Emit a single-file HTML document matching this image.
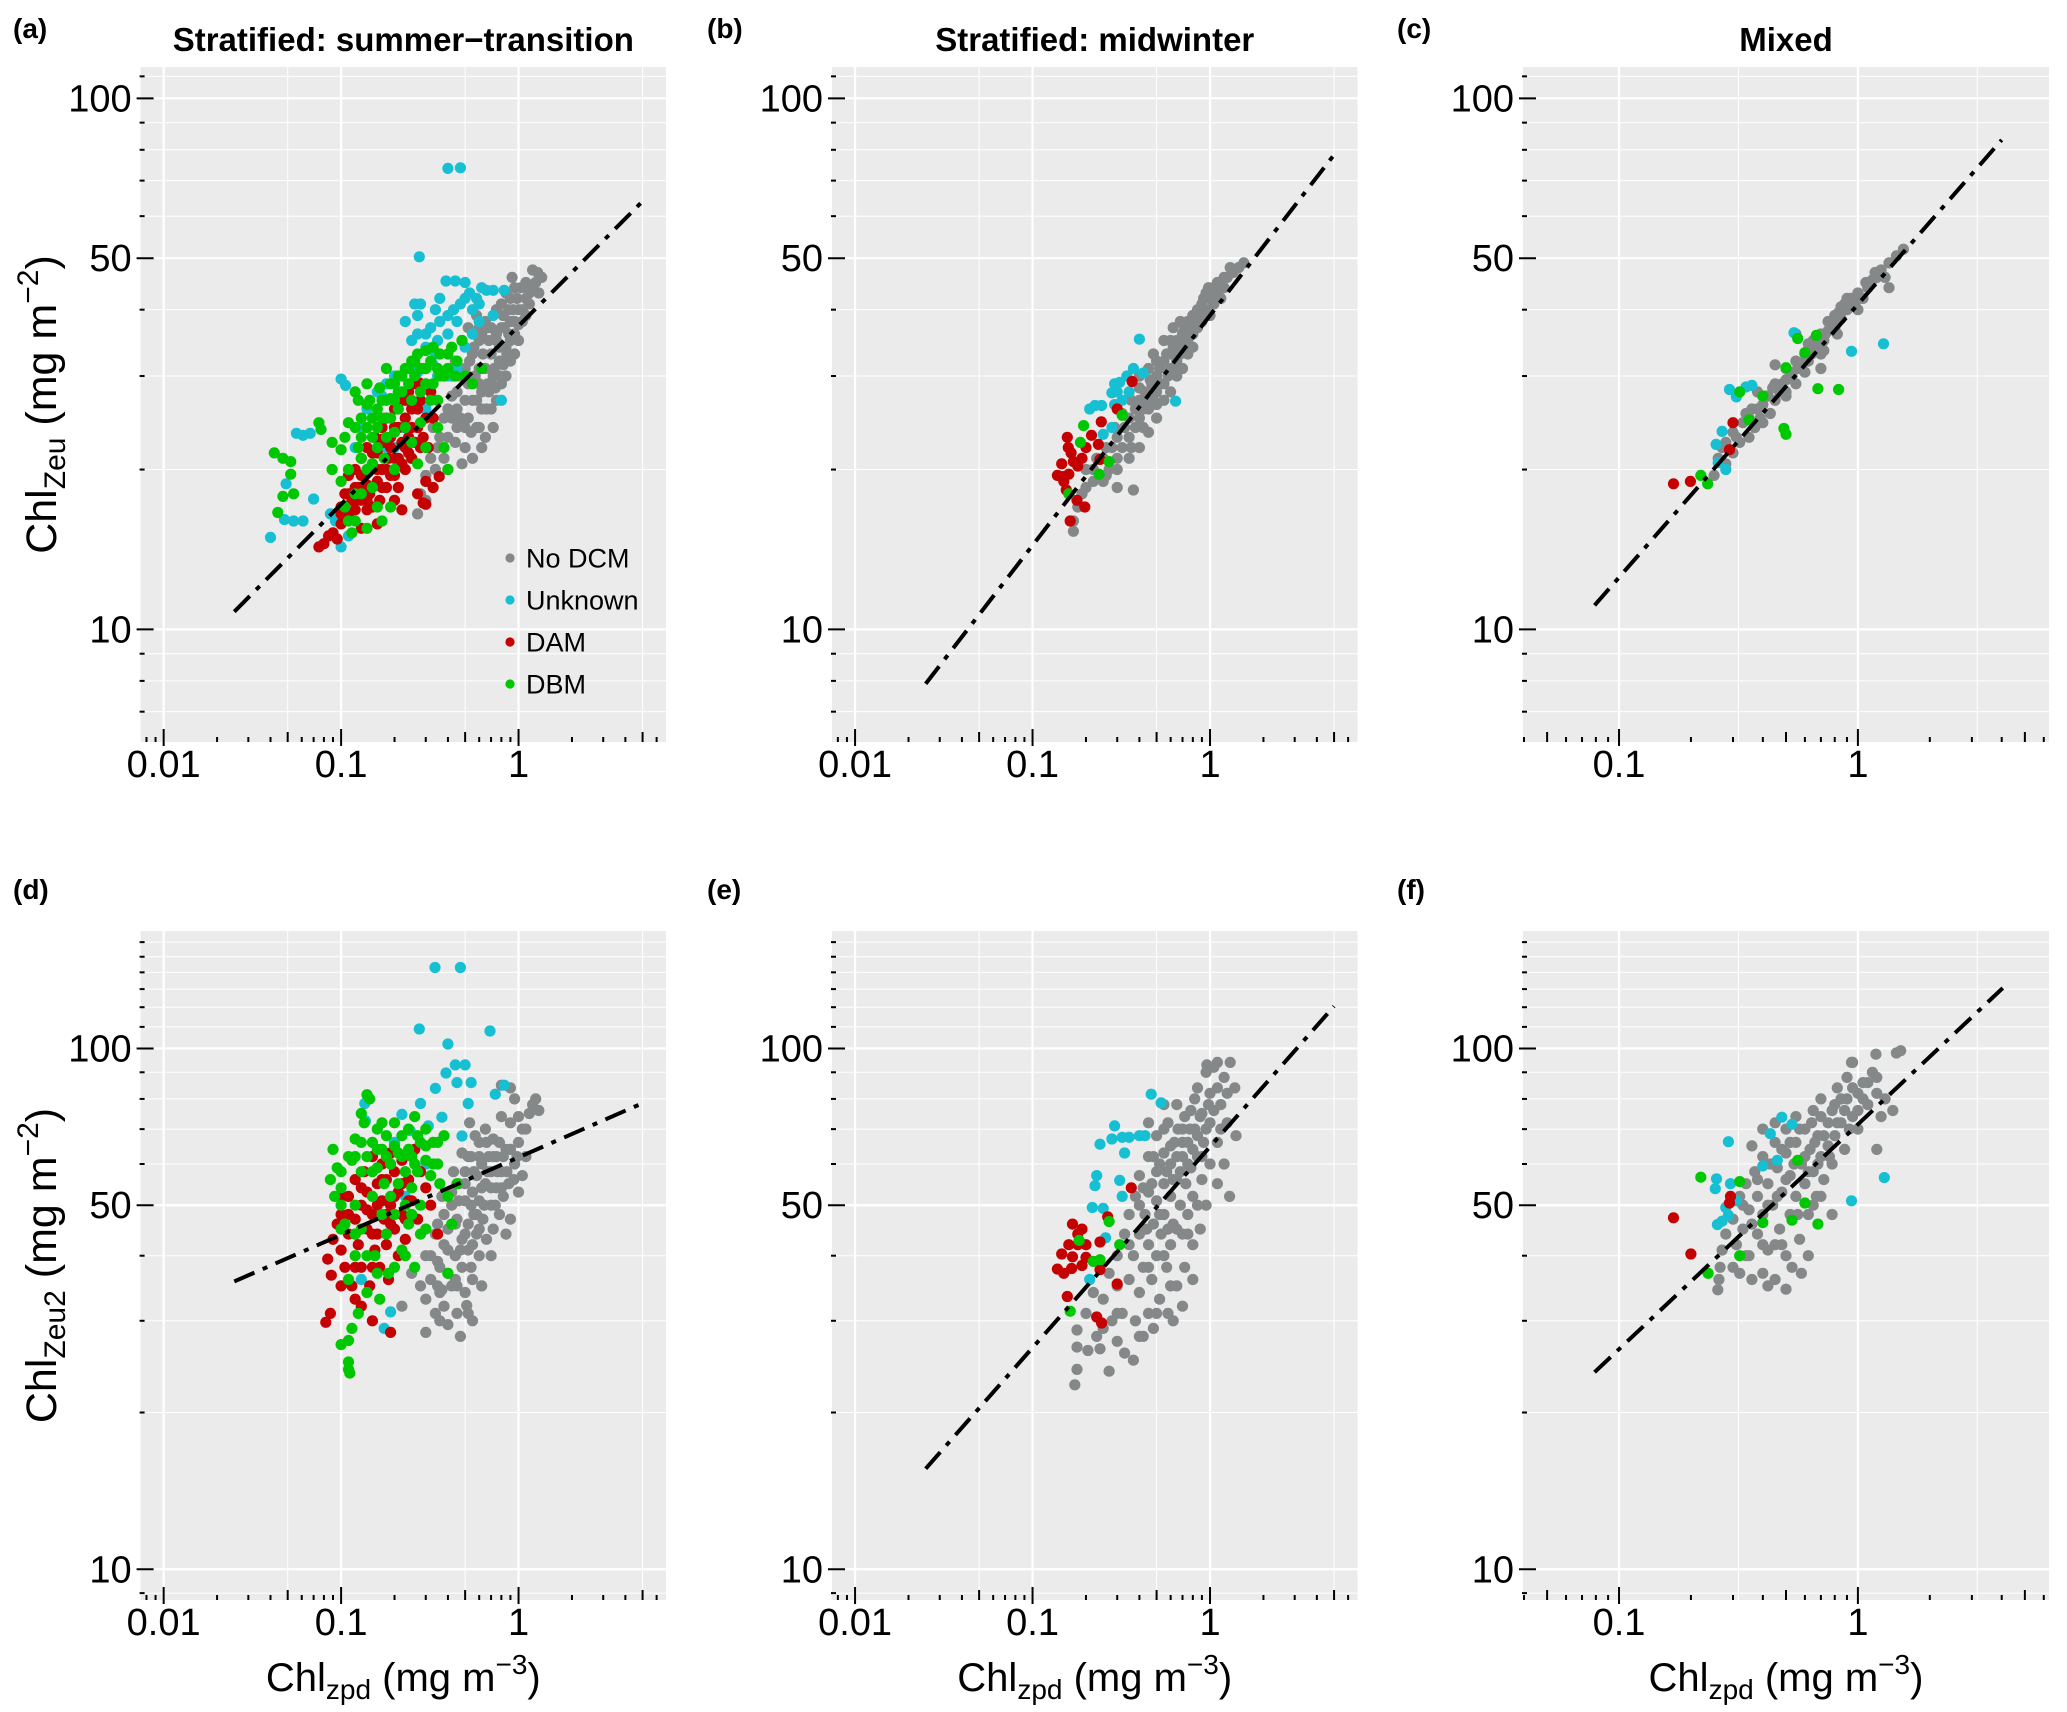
<!DOCTYPE html>
<html><head><meta charset="utf-8">
<style>
html,body{margin:0;padding:0;background:#fff;}
svg{display:block;font-family:"Liberation Sans",Arial,sans-serif;}
</style></head>
<body>
<svg id="fig" width="2067" height="1712" viewBox="0 0 2067 1712" xmlns="http://www.w3.org/2000/svg"></svg>
<script>
// ---------- data (x = Chl_zpd, y = Chl_Zeu / Chl_Zeu2) ----------
const legendLabels = ["No DCM","Unknown","DAM","DBM"];
const yTickLabels = [10,50,100];
const xTicksWide = [0.01,0.1,1];
const xTicksNarrow = [0.1,1];

// Panel (a)
const aNoDCM = [[0.28,18],[0.3,19.5],[0.32,21],[0.35,22],[0.38,21],[0.4,23],[0.42,25],[0.45,24],[0.48,20.5],[0.5,22],[0.52,25],[0.55,27],[0.58,24],[0.6,29],[0.62,26],[0.65,31],[0.68,28],[0.7,33],[0.72,30],[0.75,35],[0.78,32],[0.8,37],[0.85,34],[0.9,38],[0.95,36],[1.0,40],[1.05,38],[1.1,42],[1.15,41],[1.2,44],[1.25,45],[1.3,43],[1.28,47],[1.1,45],[0.95,44],[0.85,43],[0.75,40],[0.65,38],[0.6,35],[0.55,33],[0.5,31],[0.45,28],[0.42,30],[0.48,35],[0.52,37],[0.58,39],[0.62,36],[0.7,37],[0.8,41],[0.9,42],[1.0,35],[0.9,32],[0.8,29],[0.7,26],[0.6,24],[0.55,21],[0.65,23],[0.75,27],[0.85,30],[0.95,33],[0.38,25],[0.35,27],[0.33,24],[0.44,32],[0.5,27],[0.57,30],[0.63,33],[0.68,35],[0.73,31],[0.78,34],[0.83,37],[0.88,36],[0.93,40],[0.98,42],[1.03,44],[0.4,20],[0.3,17.5],[0.27,16.5],[0.45,26],[0.52,29],[0.6,31],[0.67,29],[0.72,24],[0.62,22],
[0.36,23],[0.4,26],[0.44,22.5],[0.47,25],[0.5,24],[0.54,23.5],[0.58,27],[0.62,28],[0.66,26],[0.7,29],[0.74,28.5],[0.78,30],[0.82,31.5],[0.86,33],[0.9,35],[0.95,38],[1.0,37.5],[1.05,40],[1.1,39],[1.15,43],[0.56,34],[0.53,32],[0.6,37],[0.67,37],[0.75,36],[0.82,39],[0.88,40],[0.46,30],[0.42,27.5],[0.34,20],[0.92,46],[1.2,47.5],[1.35,46]];
const aUnknown = [[0.04,14.9],[0.048,16.1],[0.054,16],[0.061,16],[0.056,23.4],[0.061,23.2],[0.067,23.4],[0.049,18.8],[0.07,17.6],[0.087,16.5],[0.093,16],[0.1,14.3],[0.1,29.6],[0.106,28.8],[0.11,15],[0.12,22],[0.13,24],[0.14,26],[0.15,25],[0.16,28],[0.17,27.5],[0.18,29],[0.2,30],[0.22,30],[0.25,31],[0.27,30.5],[0.3,31],[0.33,31.5],[0.25,35],[0.27,36],[0.3,34],[0.32,37],[0.35,35],[0.36,42],[0.34,40],[0.4,36],[0.43,40],[0.47,41],[0.5,42],[0.53,43],[0.58,42],[0.66,43.5],[0.72,43.5],[0.83,43.5],[0.72,39],[0.23,38],[0.27,39],[0.26,41],[0.28,41],[0.39,45.3],[0.44,45.3],[0.5,45],[0.276,50.3],[0.4,73.8],[0.47,74],[0.2,22],[0.22,24],[0.18,22],[0.25,21],[0.3,26],[0.35,30],[0.4,30],[0.45,31],[0.5,34],[0.55,36],[0.6,38],[0.8,27],
[0.36,38],[0.4,39],[0.45,38],[0.55,40],[0.6,41],[0.3,36],[0.34,33],[0.62,44]];
const aDAM = [[0.075,14.3],[0.08,14.5],[0.085,15],[0.09,15.2],[0.095,14.8],[0.1,15.8],[0.1,17],[0.105,18],[0.11,19.5],[0.11,16.5],[0.115,17.5],[0.12,20],[0.12,16.8],[0.125,18.5],[0.13,21],[0.13,17.5],[0.135,19.5],[0.14,22],[0.14,16.8],[0.145,18],[0.15,20.5],[0.15,17],[0.155,23],[0.16,19],[0.16,21.5],[0.165,17.5],[0.17,24],[0.17,20],[0.175,22.5],[0.18,18.5],[0.18,25],[0.185,21],[0.19,23],[0.19,19.5],[0.2,26],[0.2,21],[0.21,24],[0.21,18.5],[0.22,27],[0.22,22.5],[0.23,20],[0.23,25],[0.24,28],[0.24,23],[0.25,21],[0.25,26],[0.26,29],[0.27,24],[0.28,27],[0.28,22],[0.3,25],[0.32,28],[0.276,29.1],[0.3,19],[0.33,18.5],[0.2,17.5],[0.22,16.8],[0.16,15.8],[0.13,15.5],[0.27,18],[0.357,19.4],[0.29,17.3],[0.3,17.2],
[0.11,18],[0.12,18.5],[0.13,19.5],[0.14,18.7],[0.15,21.5],[0.16,20],[0.17,18.5],[0.18,20],[0.19,22],[0.2,19.5],[0.21,21],[0.22,20.5],[0.23,22],[0.24,21.5],[0.26,22.5],[0.27,26],[0.29,23],[0.31,22],[0.33,25],[0.12,17.5],[0.1,16.5],[0.14,17.5],[0.17,22.8],[0.2,24],[0.23,27],[0.25,24]];
const aDBM = [[0.042,21.5],[0.047,21],[0.052,20.7],[0.052,19.6],[0.047,17.8],[0.054,18],[0.044,16.6],[0.075,24.5],[0.077,23.8],[0.089,22.5],[0.089,20],[0.1,21.8],[0.105,23],[0.11,24.5],[0.1,19],[0.105,17],[0.11,16],[0.115,15.2],[0.12,16],[0.125,22],[0.13,25],[0.13,18],[0.14,24],[0.14,20],[0.145,27],[0.15,23],[0.15,18.5],[0.16,26],[0.16,22],[0.165,28.5],[0.17,25],[0.175,21],[0.18,27],[0.18,23],[0.19,29],[0.19,25],[0.2,27],[0.2,23.5],[0.21,30],[0.21,26],[0.22,28],[0.23,31],[0.23,24],[0.24,29],[0.25,32],[0.25,27],[0.26,30],[0.27,33],[0.28,28],[0.29,31],[0.3,33.5],[0.3,29],[0.32,32],[0.33,34],[0.35,31],[0.36,33],[0.38,30],[0.4,33],[0.42,34],[0.45,32],[0.48,35],[0.5,30],[0.55,29],[0.62,31],[0.35,24],[0.38,22],[0.4,20],[0.3,22],[0.27,20.5],[0.12,28],[0.125,27],[0.14,15.5],[0.17,16],[0.19,17],[0.18,31],[0.14,29],
[0.12,24],[0.13,23],[0.14,26.5],[0.15,25],[0.16,24],[0.17,27],[0.18,25],[0.19,27.2],[0.2,29],[0.21,28],[0.22,30],[0.24,31],[0.26,32],[0.28,31],[0.3,31],[0.33,29],[0.36,30],[0.4,31],[0.44,30],[0.15,20.5],[0.11,20],[0.12,18],[0.13,21],[0.16,17],[0.2,20],[0.25,22.5],[0.28,24.5],[0.32,27],[0.35,27]];
const aFit = [[0.025,10.8],[5,64]];

// Panel (b)
const bNoDCM = [[0.17,15.3],[0.17,16],[0.18,17],[0.19,18],[0.2,18.5],[0.22,19],[0.22,20],[0.25,19],[0.25,21],[0.27,20],[0.28,22],[0.3,18.5],[0.3,21],[0.3,23],[0.32,22],[0.33,24],[0.35,21],[0.35,23],[0.35,25],[0.37,18.3],[0.38,24],[0.38,26],[0.4,22],[0.4,25],[0.4,27],[0.42,24],[0.43,28],[0.45,26],[0.45,23.5],[0.47,29],[0.48,27],[0.5,25],[0.5,28],[0.5,30],[0.52,31],[0.55,27],[0.55,29],[0.55,32],[0.58,30],[0.6,28],[0.6,31],[0.6,33],[0.62,34],[0.65,30],[0.65,32],[0.65,35],[0.68,33],[0.7,31],[0.7,34],[0.7,36],[0.72,37],[0.75,33],[0.75,35],[0.75,38],[0.8,34],[0.8,36],[0.8,39],[0.85,37],[0.85,40],[0.9,38],[0.9,41],[0.95,40],[0.95,43],[1.0,39],[1.0,42],[1.05,41],[1.05,44],[1.1,43],[1.15,42],[1.15,45],[1.2,44],[1.25,46],[1.35,47],[1.45,48],[1.55,49],[0.55,35],[0.45,31],[0.4,30],[0.62,37],[0.48,33],
[0.2,20],[0.23,21],[0.26,22],[0.29,24],[0.32,25.5],[0.36,27],[0.4,28.5],[0.44,27],[0.46,29.5],[0.5,26.5],[0.53,29],[0.57,33],[0.6,35],[0.63,31],[0.67,34],[0.72,35],[0.78,37],[0.82,38],[0.88,39],[0.92,42],[0.98,44],[1.1,45],[1.2,46],[1.3,48],[0.42,26],[0.36,22],[0.3,20],[0.26,19.5],[0.5,32],[0.68,38]];
const bUnknown = [[0.21,26],[0.225,26.4],[0.245,26.4],[0.29,29],[0.31,29.2],[0.34,30],[0.42,30.4],[0.4,35.2],[0.28,27.9],[0.29,26.5],[0.25,23.3],[0.28,24],[0.3,28],[0.35,28],[0.64,26.9],[0.37,31],[0.32,27]];
const bDAM = [[0.157,23],[0.159,22],[0.146,20.5],[0.138,19.5],[0.148,19.4],[0.16,19.6],[0.17,20.7],[0.18,20.3],[0.2,22],[0.215,23.2],[0.244,24.6],[0.3,26],[0.364,29.3],[0.197,17],[0.163,16],[0.178,17.5],[0.15,19],[0.235,22.3],[0.24,20.9],[0.165,21.5],[0.19,21],[0.155,18.3]];
const bDBM = [[0.194,24.2],[0.186,22.5],[0.32,25.3],[0.27,20.7],[0.237,19.6],[0.16,18]];
const bFit = [[0.025,7.9],[5,78.3]];

// Panel (c)
const cNoDCM = [[0.25,19.5],[0.26,21],[0.28,20.5],[0.28,22.5],[0.3,21.5],[0.3,23.5],[0.32,22.5],[0.33,24.5],[0.35,23],[0.35,25],[0.37,24],[0.38,26],[0.4,24.5],[0.4,26.5],[0.42,27.5],[0.43,25.5],[0.45,27],[0.45,29],[0.47,28],[0.5,27.5],[0.5,29.5],[0.5,31],[0.53,30],[0.55,29],[0.55,32],[0.58,31],[0.6,30.5],[0.6,33],[0.62,32],[0.65,33.5],[0.65,35],[0.68,34],[0.7,33],[0.7,36],[0.72,35],[0.75,36.5],[0.75,38],[0.8,37],[0.8,39],[0.85,38.5],[0.85,40.5],[0.9,40],[0.9,42],[0.95,41],[1.0,40],[1.0,43],[1.05,42],[1.1,44],[1.15,45.5],[1.2,46],[1.25,47.5],[1.35,49],[1.45,50.5],[1.55,52],[1.3,46],[0.55,36],[0.45,31.5],[0.38,28],[0.7,31],[1.35,44],
[0.27,22],[0.31,23],[0.34,25.5],[0.36,26],[0.39,25],[0.41,27.5],[0.44,28.5],[0.48,29],[0.52,30.5],[0.56,31],[0.6,32],[0.64,33],[0.68,35],[0.73,36],[0.78,38],[0.83,39.5],[0.88,41],[0.93,42],[0.98,41.5],[1.08,45],[1.18,47],[0.5,28],[0.62,34.5],[0.72,33.5],[0.82,36]];
const cUnknown = [[0.54,36.2],[0.94,33.4],[1.28,34.5],[0.29,28.3],[0.31,27.4],[0.34,28.6],[0.27,23.6],[0.255,22.3],[0.28,20],[0.26,20.6],[0.36,28.8]];
const cDAM = [[0.169,18.8],[0.199,19],[0.29,21.8],[0.3,24.5]];
const cDBM = [[0.22,19.5],[0.235,18.8],[0.32,28],[0.56,35.3],[0.67,35.8],[0.6,33.2],[0.5,31.1],[0.68,28.4],[0.83,28.3],[0.49,23.9],[0.5,23.3],[0.35,24.8],[0.4,27.5]];
const cFit = [[0.079,11.1],[4.0,83.5]];

// Panel (d)
const dNoDCM = [[0.25,37],[0.28,35],[0.3,33],[0.32,36],[0.34,31],[0.35,39],[0.36,34],[0.38,32],[0.38,42],[0.4,37],[0.4,45],[0.42,35],[0.42,50],[0.44,40],[0.45,31],[0.45,47],[0.46,55],[0.48,43],[0.48,38],[0.5,34],[0.5,51],[0.5,58],[0.52,46],[0.52,41],[0.54,62],[0.55,36],[0.55,53],[0.56,48],[0.58,44],[0.58,57],[0.6,66],[0.6,40],[0.6,51],[0.62,60],[0.63,47],[0.65,55],[0.65,70],[0.66,43],[0.68,62],[0.7,50],[0.7,58],[0.72,67],[0.72,45],[0.75,54],[0.75,62],[0.78,48],[0.8,58],[0.8,74],[0.82,52],[0.85,64],[0.88,55],[0.9,72],[0.9,47],[0.95,60],[1.0,66],[1.0,53],[1.05,70],[1.1,62],[1.15,75],[1.2,78],[1.25,80],[1.3,76],[0.95,80],[1.05,57],[0.85,44],[0.57,68],[0.53,72],[0.48,63],[0.43,58],[0.7,40],[0.62,35],[0.52,31],[0.4,29.5],[0.36,30],[0.3,28.5],[0.47,28],[0.55,30],[0.35,46],[0.37,52],[0.8,85],[0.9,84],[0.22,32],[0.51,32.1],[0.37,34.4],
[0.32,40],[0.34,44],[0.36,38],[0.38,48],[0.4,41],[0.42,53],[0.44,36],[0.44,46],[0.46,51],[0.47,41],[0.5,44],[0.5,55],[0.52,62],[0.54,38],[0.54,50],[0.56,58],[0.58,48],[0.6,45],[0.6,62],[0.62,54],[0.64,50],[0.66,66],[0.67,58],[0.7,54],[0.72,62],[0.74,50],[0.76,58],[0.78,66],[0.8,54],[0.82,62],[0.86,58],[0.9,64],[0.94,56],[0.98,62],[1.0,74],[1.1,70],[0.45,35],[0.35,35],[0.3,40],[0.55,42]];
const dUnknown = [[0.338,143],[0.47,143],[0.276,109],[0.69,108],[0.4,102],[0.44,93],[0.5,93],[0.39,89.7],[0.45,86],[0.54,86],[0.74,81.7],[0.83,85],[0.34,83.8],[0.28,78.4],[0.136,78.4],[0.137,72.6],[0.22,74.7],[0.245,69.5],[0.31,71],[0.37,73.8],[0.52,78.4],[0.48,67.9],[0.175,29],[0.19,31.2],[0.13,36],[0.26,64],[0.3,60],[0.2,66],[0.23,52]];
const dDAM = [[0.082,29.8],[0.087,31],[0.088,36.7],[0.084,39.4],[0.09,43],[0.095,46],[0.1,41],[0.1,48],[0.105,38],[0.11,44],[0.11,52],[0.115,35],[0.12,47],[0.12,56],[0.125,42],[0.13,50],[0.13,38],[0.135,58],[0.14,45],[0.14,53],[0.145,35],[0.15,48],[0.15,62],[0.155,41],[0.16,55],[0.16,44],[0.165,38],[0.17,51],[0.17,60],[0.175,47],[0.18,42],[0.18,56],[0.185,36],[0.19,50],[0.19,63],[0.2,45],[0.2,58],[0.21,40],[0.21,53],[0.22,48],[0.22,61],[0.23,43],[0.24,56],[0.25,51],[0.26,64],[0.27,47],[0.28,58],[0.3,54],[0.32,50],[0.35,44],[0.12,33],[0.15,30],[0.13,32],[0.19,28.5],[0.1,35],
[0.1,52],[0.12,44],[0.13,54],[0.14,49],[0.15,44],[0.16,50],[0.17,56],[0.18,48],[0.19,46],[0.2,52],[0.22,55],[0.23,47],[0.24,51],[0.15,38],[0.12,38],[0.11,48]];
const dDBM = [[0.087,56],[0.09,64],[0.092,52],[0.095,59],[0.1,54],[0.1,27],[0.105,46],[0.11,24.2],[0.11,25],[0.11,27.5],[0.112,23.8],[0.115,61],[0.115,29],[0.12,67],[0.12,50],[0.125,31],[0.13,58],[0.13,45],[0.135,72],[0.14,81.5],[0.145,80],[0.14,62],[0.14,34],[0.15,52],[0.15,66],[0.155,40],[0.16,59],[0.16,70],[0.165,33],[0.17,48],[0.17,64],[0.175,55],[0.18,68],[0.18,44],[0.185,37],[0.19,60],[0.19,52],[0.2,72],[0.2,48],[0.21,63],[0.21,55],[0.22,41],[0.22,68],[0.23,58],[0.23,50],[0.24,70],[0.24,46],[0.25,62],[0.25,54],[0.26,74],[0.27,58],[0.28,66],[0.28,50],[0.3,61],[0.3,70],[0.32,57],[0.33,66],[0.35,60],[0.36,55],[0.38,68],[0.4,52],[0.42,46],[0.45,55],[0.4,37],[0.3,45],[0.26,38],[0.12,40],[0.1,45],[0.11,36],[0.13,75],
[0.1,58],[0.11,62],[0.12,62],[0.13,66],[0.15,58],[0.16,64],[0.17,72],[0.18,62],[0.2,65],[0.22,62],[0.24,64],[0.26,60],[0.27,68],[0.3,65],[0.33,60],[0.35,66],[0.12,44],[0.14,40],[0.16,37],[0.2,38],[0.23,40],[0.28,44],[0.25,48],[0.1,50]];
const dFit = [[0.025,35.7],[5,78.5]];

// Panel (e)
const eNoDCM = [[0.173,22.6],[0.178,24.2],[0.178,26.7],[0.178,28.8],[0.205,26.3],[0.24,26.5],[0.3,27.4],[0.37,25.2],[0.2,31],[0.22,34],[0.25,29],[0.25,33],[0.27,37],[0.28,30],[0.3,35],[0.3,40],[0.32,31],[0.33,44],[0.35,36],[0.35,48],[0.37,40],[0.38,30],[0.38,52],[0.4,34],[0.4,44],[0.4,57],[0.42,38],[0.43,48],[0.45,31],[0.45,42],[0.45,53],[0.45,62],[0.47,36],[0.48,46],[0.5,40],[0.5,51],[0.5,58],[0.5,68],[0.52,33],[0.53,44],[0.55,48],[0.55,55],[0.55,63],[0.57,38],[0.58,72],[0.6,42],[0.6,52],[0.6,60],[0.62,46],[0.63,66],[0.65,35],[0.65,56],[0.65,78],[0.68,50],[0.7,44],[0.7,62],[0.7,70],[0.72,38],[0.73,55],[0.75,48],[0.75,66],[0.78,59],[0.78,76],[0.8,42],[0.8,52],[0.82,70],[0.85,62],[0.85,84],[0.88,45],[0.9,56],[0.9,75],[0.92,66],[0.95,50],[0.95,90],[1.0,60],[1.0,72],[1.0,82],[1.05,92],[1.1,66],[1.1,55],[1.15,78],[1.2,60],[1.2,88],[1.3,94],[1.25,72],[1.29,52],[1.4,68],[1.38,84],[0.96,93],[1.1,94],[0.62,30],[0.7,32],[0.8,36],[0.48,29],[0.58,31],[0.42,28],[0.33,26],[0.27,24],[0.23,28],[0.55,78],[0.45,72],
[0.4,50],[0.42,54],[0.44,45],[0.47,55],[0.48,62],[0.52,48],[0.52,60],[0.55,70],[0.57,58],[0.58,45],[0.6,65],[0.62,56],[0.65,62],[0.66,70],[0.68,58],[0.7,66],[0.72,74],[0.75,60],[0.77,70],[0.8,64],[0.82,80],[0.85,68],[0.88,74],[0.9,62],[0.95,70],[0.98,78],[1.05,76],[1.1,84],[1.15,70],[1.25,82],[0.55,40],[0.65,45],[0.75,44],[0.85,50],[0.45,38],[0.35,42],[0.3,31],[0.4,28],[0.5,31],[0.6,35]];
const eUnknown = [[0.466,81.7],[0.53,78.6],[0.29,71],[0.28,67],[0.24,65.5],[0.32,67.5],[0.35,67.5],[0.4,68],[0.43,68],[0.33,63],[0.23,57],[0.225,54.5],[0.217,49.5],[0.25,49.3],[0.258,43.3],[0.21,36],[0.32,52],[0.31,55.8]];
const eDAM = [[0.36,54],[0.265,47.5],[0.168,46],[0.19,45],[0.16,42],[0.18,42],[0.2,42],[0.146,40.3],[0.138,37.7],[0.15,37],[0.166,37.8],[0.19,38.3],[0.24,42.5],[0.24,37.6],[0.157,33.4],[0.23,30.5],[0.245,29.7],[0.3,35.3],[0.168,39.8],[0.2,39.7],[0.18,44]];
const eDBM = [[0.183,42.8],[0.22,39],[0.24,39.3],[0.27,46.5],[0.163,31.3],[0.31,42]];
const eFit = [[0.025,15.6],[5,120.5]];

// Panel (f)
const fNoDCM = [[0.259,34.4],[0.262,36],[0.265,38],[0.27,41],[0.28,44],[0.3,38],[0.3,47],[0.31,42],[0.32,37],[0.32,52],[0.33,45],[0.34,55],[0.35,40],[0.35,49],[0.36,36],[0.37,58],[0.38,44],[0.38,52],[0.4,37],[0.4,48],[0.4,62],[0.42,55],[0.42,41],[0.44,50],[0.45,66],[0.45,36],[0.46,59],[0.47,45],[0.48,53],[0.5,40],[0.5,63],[0.5,70],[0.52,48],[0.52,57],[0.55,52],[0.55,66],[0.55,74],[0.57,43],[0.58,60],[0.6,55],[0.6,70],[0.62,48],[0.63,64],[0.65,58],[0.65,76],[0.67,52],[0.68,68],[0.7,62],[0.7,80],[0.72,56],[0.75,72],[0.75,65],[0.78,60],[0.8,78],[0.8,68],[0.82,84],[0.85,72],[0.88,64],[0.9,80],[0.9,88],[0.95,74],[0.95,94],[1.0,82],[1.0,70],[1.05,86],[1.1,78],[1.15,90],[1.2,82],[1.25,74],[1.3,80],[1.4,76],[1.19,97.5],[1.51,99],[1.45,98],[0.94,94],[1.2,64],[0.78,48],[0.5,34.5],[0.42,35],[0.58,37],[0.48,42],[0.62,40],[0.36,65],[0.45,72],[0.4,70],
[0.33,50],[0.36,46],[0.38,56],[0.42,50],[0.43,60],[0.46,52],[0.48,64],[0.5,56],[0.52,66],[0.54,60],[0.56,48],[0.57,70],[0.6,62],[0.62,58],[0.64,72],[0.66,66],[0.68,60],[0.7,74],[0.72,68],[0.76,62],[0.78,76],[0.82,72],[0.85,80],[0.88,76],[0.92,70],[0.95,84],[1.0,76],[1.05,80],[1.1,86],[1.2,88],[0.45,42],[0.53,38],[0.4,42],[0.65,50],[0.7,52],[0.34,40]];
const fUnknown = [[0.287,66.2],[0.48,73.8],[0.53,71.5],[0.43,68.6],[0.256,56.2],[0.253,53.8],[0.293,55],[0.31,51],[0.28,49.5],[0.287,47.8],[0.258,45.9],[0.27,46.6],[1.29,56.5],[0.94,51],[0.4,59.5],[0.46,61]];
const fDAM = [[0.169,47.3],[0.2,40.3],[0.293,52],[0.29,50.5]];
const fDBM = [[0.22,56.6],[0.32,55.5],[0.236,37],[0.56,61],[0.6,50.5],[0.68,46],[0.4,46.3],[0.32,40],[0.53,46.8]];
const fFit = [[0.079,23.9],[4.04,130.6]];

// ---------- rendering ----------
const NS = "http://www.w3.org/2000/svg";
const svg = document.getElementById("fig");
const COLORS = ["#848888","#17bfd3","#c50000","#00c800"];
const R = 5.6;
function mk(tag, attrs, parent){
  const e = document.createElementNS(NS, tag);
  for (const k in attrs) e.setAttribute(k, attrs[k]);
  (parent||svg).appendChild(e);
  return e;
}
const log10 = Math.log10;

const panels = [
  {id:"a", title:"Stratified: summer\u2212transition", L:140.6, R:666, T:67, B:742, xl:-2.13, xh:0.831, yl:0.788, yh:2.059, wide:true, series:[aNoDCM,aUnknown,aDAM,aDBM], fit:aFit, lx:13, ly:38},
  {id:"b", title:"Stratified: midwinter", L:832, R:1357.5, T:67, B:742, xl:-2.13, xh:0.831, yl:0.788, yh:2.059, wide:true, series:[bNoDCM,bUnknown,bDAM,bDBM], fit:bFit, lx:707, ly:38},
  {id:"c", title:"Mixed", L:1523, R:2049, T:67, B:742, xl:-1.402, xh:0.80, yl:0.788, yh:2.059, wide:false, series:[cNoDCM,cUnknown,cDAM,cDBM], fit:cFit, lx:1397, ly:38},
  {id:"d", title:"", L:140.6, R:666, T:931, B:1600, xl:-2.13, xh:0.831, yl:0.941, yh:2.2255, wide:true, series:[dNoDCM,dUnknown,dDAM,dDBM], fit:dFit, lx:13, ly:899},
  {id:"e", title:"", L:832, R:1357.5, T:931, B:1600, xl:-2.13, xh:0.831, yl:0.941, yh:2.2255, wide:true, series:[eNoDCM,eUnknown,eDAM,eDBM], fit:eFit, lx:707, ly:899},
  {id:"f", title:"", L:1523, R:2049, T:931, B:1600, xl:-1.402, xh:0.80, yl:0.941, yh:2.2255, wide:false, series:[fNoDCM,fUnknown,fDAM,fDBM], fit:fFit, lx:1397, ly:899}
];
const seriesNames = ["no-dcm","unknown","dam","dbm"];

panels.forEach((p, pi) => {
  const g = mk("g", {});
  
  
  const sx = v => p.L + (log10(v) - p.xl) / (p.xh - p.xl) * (p.R - p.L);
  const sy = v => p.B - (log10(v) - p.yl) / (p.yh - p.yl) * (p.B - p.T);
  const inY = v => log10(v) >= p.yl && log10(v) <= p.yh;
  const inX = v => log10(v) >= p.xl && log10(v) <= p.xh;

  const bg = mk("rect", {x:p.L, y:p.T, width:p.R-p.L, height:p.B-p.T, fill:"#ebebeb"}, g);
  
  

  const yMinor = [7,8,9,20,30,40,60,70,80,90,110,120,130,140,150,160];
  yMinor.forEach(v => { if (inY(v)) { const y = sy(v); mk("line",{x1:p.L,x2:p.R,y1:y,y2:y,stroke:"#fff","stroke-width":1},g); mk("line",{x1:p.L-1,x2:p.L+4,y1:y,y2:y,stroke:"#000","stroke-width":2},g);} });
  yTickLabels.forEach(v => { const y = sy(v);
    mk("line",{x1:p.L,x2:p.R,y1:y,y2:y,stroke:"#fff","stroke-width":2.2},g);
    mk("line",{x1:p.L-4,x2:p.L+13,y1:y,y2:y,stroke:"#000","stroke-width":2},g);
    const t = mk("text",{x:p.L-9,y:y+13,"text-anchor":"end","font-size":38,fill:"#000"},g);
    t.textContent = v;
    
    
  });
  const xMinorGrid = p.wide ? [0.05,0.5,5] : [0.316,3.16];
  xMinorGrid.forEach(v => { const x = sx(v); mk("line",{x1:x,x2:x,y1:p.T,y2:p.B,stroke:"#fff","stroke-width":1},g); });
  const majors = p.wide ? xTicksWide : xTicksNarrow;
  majors.forEach(v => { const x = sx(v);
    mk("line",{x1:x,x2:x,y1:p.T,y2:p.B,stroke:"#fff","stroke-width":2.2},g);
    mk("line",{x1:x,x2:x,y1:p.B-13,y2:p.B+4,stroke:"#000","stroke-width":2},g);
    const t = mk("text",{x:x,y:p.B+35,"text-anchor":"middle","font-size":38,fill:"#000"},g);
    t.textContent = v;
    
    
  });
  [0.001,0.01,0.1,1].forEach(d => { for (let k=2;k<=9;k++){ const v=d*k; if (inX(v)) { const x=sx(v); mk("line",{x1:x,x2:x,y1:p.B-(k===5?10:5),y2:p.B,stroke:"#000","stroke-width":2},g);} } });

  p.series.forEach((arr, si) => {
    const sg = mk("g", {fill:COLORS[si]}, g);
    
    
    arr.forEach(pt => {
      const c = mk("circle", {cx:sx(pt[0]).toFixed(1), cy:sy(pt[1]).toFixed(1), r:R}, sg);
      
      
    });
  });

  const fl = mk("line",{x1:sx(p.fit[0][0]),y1:sy(p.fit[0][1]),x2:sx(p.fit[1][0]),y2:sy(p.fit[1][1]),stroke:"#000","stroke-width":4,"stroke-dasharray":"22 9 5 9"},g);
  
  

  const pl = mk("text",{x:p.lx,y:p.ly,"font-size":28,"font-weight":"bold",fill:"#000"},g);
  pl.textContent = "(" + p.id + ")";
  
  

  if (p.title) {
    const tt = mk("text",{x:(p.L+p.R)/2,y:51,"text-anchor":"middle","font-size":33,"font-weight":"bold",fill:"#000"},g);
    tt.textContent = p.title;
    
    
  }

  if (pi >= 3) {
    const xt = mk("text",{x:(p.L+p.R)/2,y:1691,"text-anchor":"middle","font-size":40,fill:"#000"},g);
    xt.innerHTML = 'Chl<tspan font-size="28" dy="8">zpd</tspan><tspan dy="-8"> (mg m</tspan><tspan font-size="28" dy="-17">\u22123</tspan><tspan dy="17">)</tspan>';
    
    
  }
});

[[404.5,"Zeu"],[1265.5,"Zeu2"]].forEach((r, i) => {
  const t = mk("text",{x:0,y:0,"text-anchor":"middle","font-size":43,fill:"#000",transform:"translate(56," + r[0] + ") rotate(-90)"});
  t.innerHTML = 'Chl<tspan font-size="30" dy="9">' + r[1] + '</tspan><tspan dy="-9"> (mg m</tspan><tspan font-size="30" dy="-18">\u22122</tspan><tspan dy="18">)</tspan>';
  
  
});

const lg = mk("g", {});


legendLabels.forEach((lab, i) => {
  const y = 558 + i * 42;
  const c = mk("circle",{cx:510,cy:y,r:4.6,fill:COLORS[i]},lg);
  
  
  const t = mk("text",{x:526,y:y+9.5,"font-size":27,fill:"#000"},lg);
  t.textContent = lab;
  
  
});
</script>
</body></html>
